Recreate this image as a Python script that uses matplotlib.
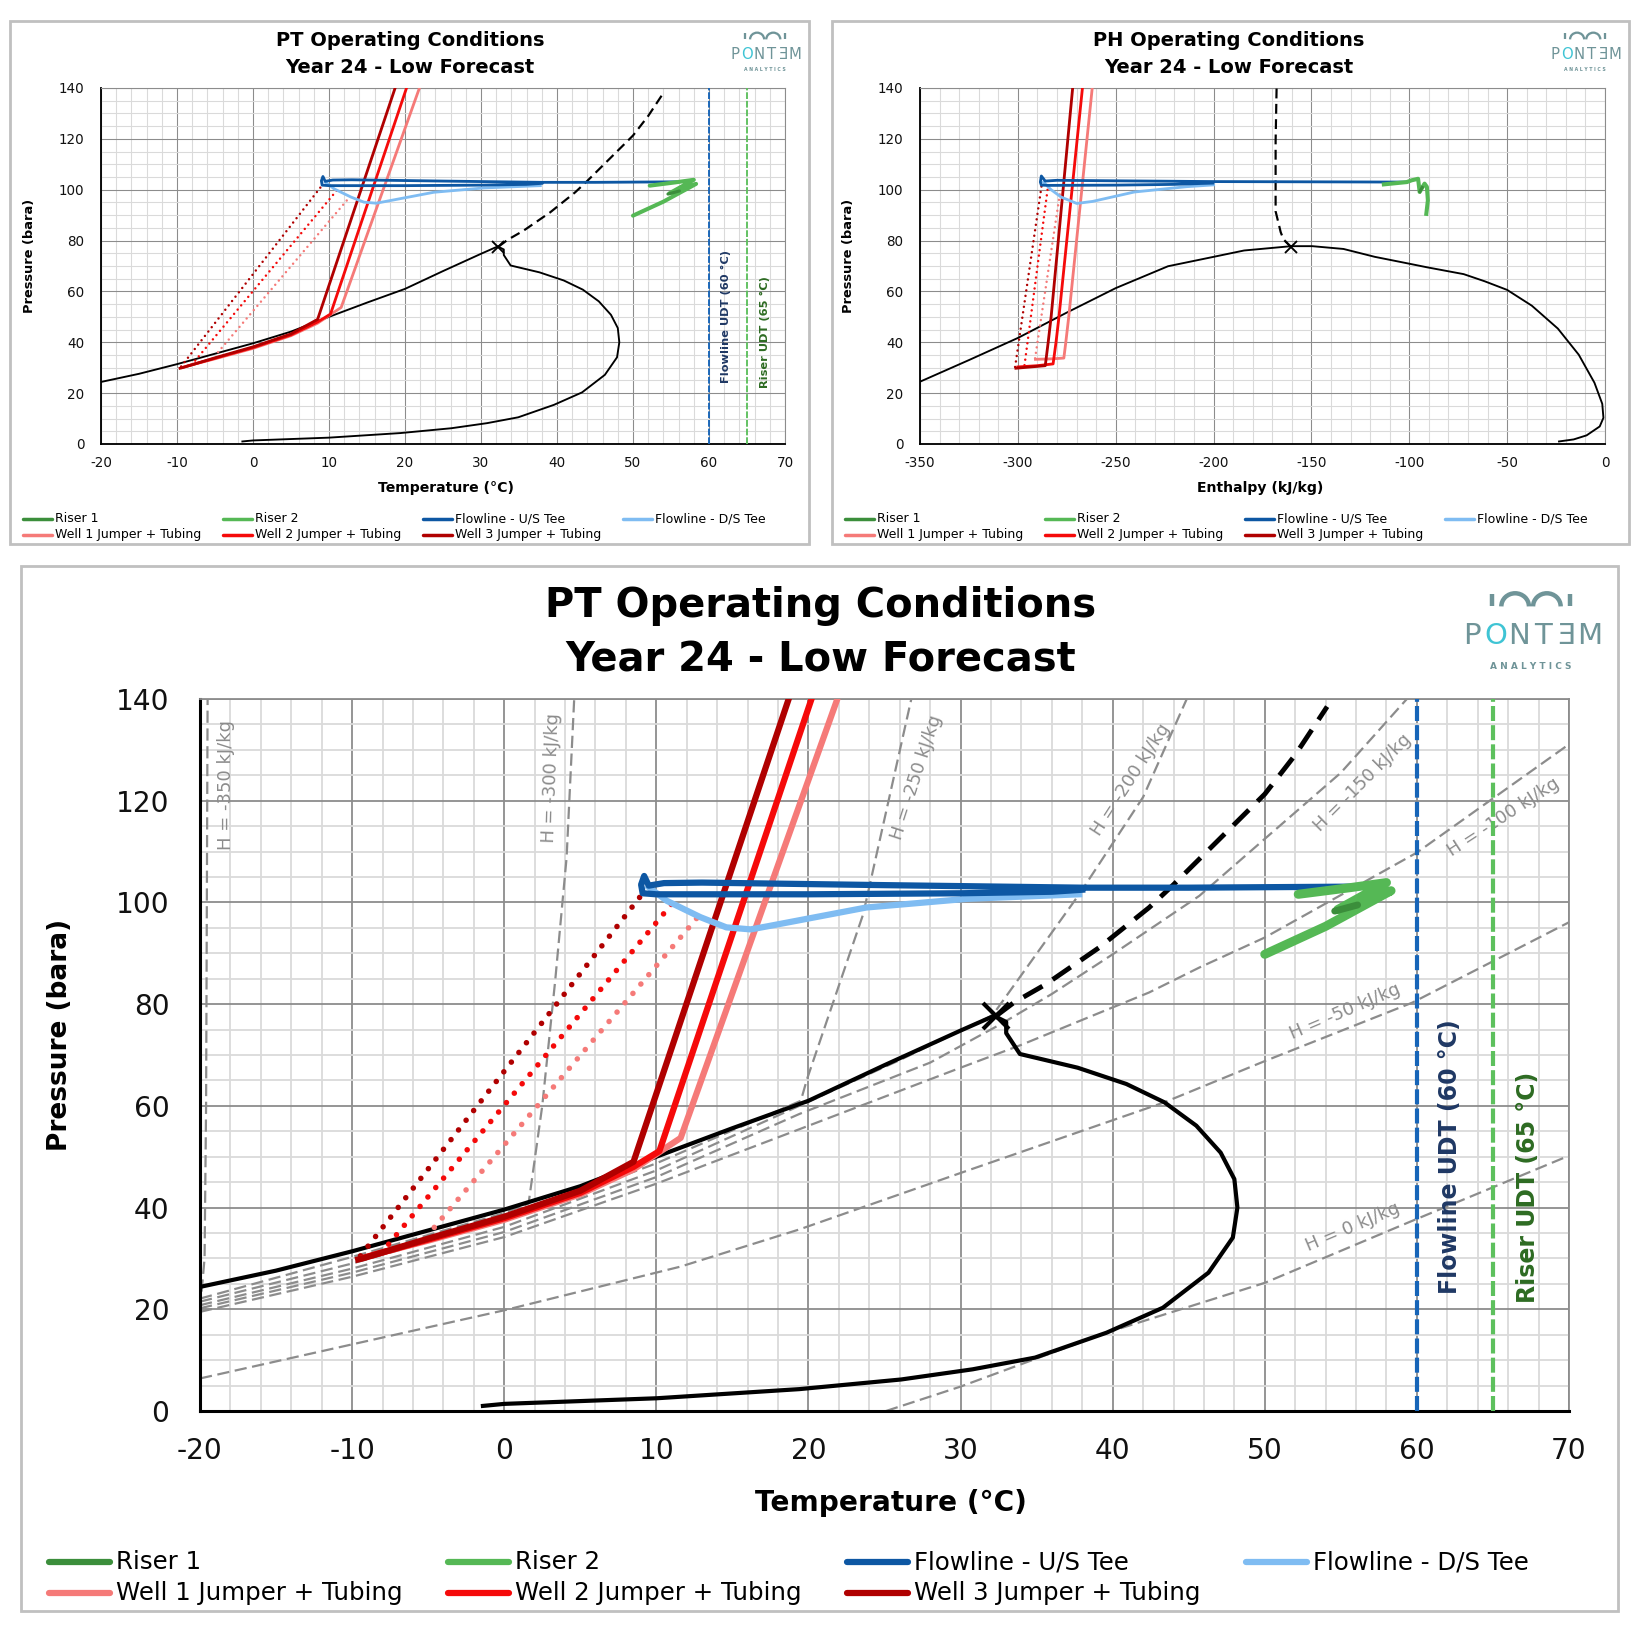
import matplotlib
matplotlib.use("Agg")
import matplotlib.pyplot as plt
import matplotlib.font_manager as fm
from matplotlib.lines import Line2D
from matplotlib.patches import Rectangle, Arc
import numpy as np

# ---------------------------------------------------------------
# data
# ---------------------------------------------------------------
# phase envelope in P-T (deg C, bara)
ENV_T = [-20, -15, -10, -5, 0, 5, 10, 15, 20, 25, 30, 32.2, 33.0, 33.0, 33.9, 37.7,
         40.9, 43.4, 45.5, 47.1, 48.0, 48.2, 47.9, 46.3, 43.3, 39.6, 34.9, 30.8,
         26.1, 19.4, 10, 0, -1.4]
ENV_P = [24.4, 27.6, 31.4, 35.5, 39.6, 44.2, 50.0, 55.6, 61.0, 68.0, 74.8, 77.7, 76.5,
         74.3, 70.2, 67.5, 64.3, 60.7, 56.1, 50.8, 45.6, 40.0, 34.1, 27.2, 20.3, 15.4,
         10.5, 8.2, 6.2, 4.3, 2.5, 1.4, 1.0]
CRIT_T, CRIT_P = 32.3, 77.6
EXT_T = [32.3, 33.5, 35.6, 39.1, 42.4, 44.0, 46.8, 50.0, 52.0, 54.1]
EXT_P = [77.6, 80.3, 83.9, 91.1, 99.0, 103.5, 111.8, 121.3, 129.0, 138.5]

# flowlines and risers, P-T
FUS_T = [55.6, 45, 38, 25, 13, 10.5, 9.5, 9.2, 9.0, 9.1, 10, 20, 30, 36, 38]
FUS_P = [103.1, 102.9, 102.9, 103.4, 103.9, 103.8, 103.3, 105.2, 103.5, 101.8, 101.6,
         101.6, 101.8, 102.1, 102.5]
FDS_T = [9.5, 10.7, 12.9, 14.6, 16.2, 17.3, 23.8, 30.4, 37.8]
FDS_P = [103.0, 100.3, 97.1, 95.1, 94.7, 95.3, 99.0, 100.7, 101.6]
R1_T = [54.6, 56.1]
R1_P = [98.3, 99.5]
R2_T = [52.2, 55.6, 58.0, 54.8, 58.3, 54.0, 50.0]
R2_P = [101.6, 102.9, 103.9, 98.6, 102.3, 95.3, 89.8]

# wells, P-T (solid = jumper + tubing, dotted = choke)
W1_T = [-8.5, -5.0, 0.0, 5.0, 8.5, 11.6, 21.9]
W1_P = [30.8, 33.5, 37.6, 42.6, 47.5, 53.7, 140.0]
W2_T = [-9.3, -5.0, 0.0, 5.0, 8.5, 10.2, 20.2]
W2_P = [30.1, 33.7, 37.9, 42.9, 48.0, 51.1, 140.0]
W3_T = [-9.6, -9.2, -5.0, 0.0, 5.0, 8.5, 18.7]
W3_P = [29.8, 30.1, 33.9, 38.2, 43.3, 49.0, 140.0]
W1D_T, W1D_P = [-4.6, 12.8], [36.1, 97.4]
W2D_T, W2D_P = [-7.6, 11.1], [32.8, 100.0]
W3D_T, W3D_P = [-9.45, 9.06], [30.5, 101.6]

# isenthalps on the large P-T chart
H350_T = [-20.0, -19.7, -19.6, -19.55, -19.5]
H350_P = [20.0, 30.0, 60.0, 100.0, 140.0]
H300_T = [-20, -10, 0, 1.6, 2.5, 3.35, 4.1, 4.6]
H300_P = [22.1, 30.3, 38.9, 40.8, 60.0, 84.6, 108.8, 140.0]
H250_T = [-20, -10, 0, 10, 19.5, 19.9, 23.6, 26.8]
H250_P = [21.5, 29.0, 37.5, 48.7, 61.0, 65.2, 97.7, 140.5]
H200_T = [-20, -10, 0, 10, 19.4, 26, 32.1, 37.8, 42.0, 44.9]
H200_P = [20.8, 28.0, 36.2, 47.3, 60.0, 69.0, 77.8, 101.6, 120.7, 140.2]
H150_T = [-20, -10, 0, 10, 19.4, 28, 32.6, 36, 40, 45.7, 50, 55, 59.4]
H150_P = [20.2, 27.2, 35.2, 46.0, 58.4, 68.5, 76.0, 82.0, 89.8, 101.3, 112.5, 125.5, 140.2]
H100_T = [-20, -10, 0, 10, 19.4, 30, 34, 42.4, 45.7, 50, 60, 70]
H100_P = [19.5, 26.4, 34.2, 44.7, 55.4, 67.5, 72.0, 82.3, 87.2, 93.1, 109.8, 131.1]
H50_T = [-20, 0, 11.6, 19.4, 30, 43.4, 50, 59.7, 70]
H50_P = [6.4, 19.8, 28.4, 35.7, 46.8, 60.7, 68.8, 80.3, 96.1]
H0_T = [25.1, 30, 39.6, 50, 59.7, 70]
H0_P = [0.0, 4.8, 15.4, 25.2, 37.4, 50.2]
ISEN_LABELS = ['H = -350 kJ/kg', 'H = -300 kJ/kg', 'H = -250 kJ/kg', 'H = -200 kJ/kg',
               'H = -150 kJ/kg', 'H = -100 kJ/kg', 'H = -50 kJ/kg', 'H = 0 kJ/kg']
ISEN_LABEL_T = [-18.3, 3.1, 27.1, 41.2, 56.4, 65.7, 55.3, 55.8]
ISEN_LABEL_P = [123.0, 124.4, 124.6, 124.2, 123.6, 116.8, 78.6, 36.1]

# P-H chart (kJ/kg, bara)
PH_ENV_H = [-350, -325, -300, -275.2, -250, -223.3, -200, -184.4, -160.3, -149.6, -133.6,
            -117.6, -100, -91, -72.2, -61.5, -50, -37.4, -24.1, -13.4, -5.4, -1.4, -0.8,
            -2.7, -9.4, -16, -23.5]
PH_ENV_P = [24.5, 33.0, 41.7, 51.6, 61.3, 69.9, 73.6, 76.1, 77.8, 77.8, 76.7, 73.6, 70.9,
            69.5, 66.8, 64.0, 60.6, 54.4, 45.4, 35.1, 24.1, 15.8, 10.3, 6.9, 3.4, 1.8, 1.0]
PH_CRIT_H, PH_CRIT_P = -160.3, 77.4
PH_EXT_H = [-160.3, -164.3, -165.7, -168.3, -168.3, -168.3, -167.8]
PH_EXT_P = [77.4, 80.5, 83.3, 91.5, 105.3, 119.0, 140.0]
PH_FUS_H = [-101.3, -150, -200, -250, -280, -286, -288, -288.5, -288, -284, -250, -220,
            -200.5]
PH_FUS_P = [103.0, 103.1, 103.2, 103.5, 103.7, 103.4, 105.4, 103.0, 101.8, 101.7, 101.8,
            102.1, 102.6]
PH_FDS_H = [-287, -283, -277.9, -269.9, -261.8, -240.5, -213.7, -200]
PH_FDS_P = [103.0, 100.0, 97.1, 94.6, 95.4, 99.1, 101.2, 101.9]
PH_R1_H = [-94.6, -93.4]
PH_R1_P = [99.3, 100.9]
PH_R2_H = [-113.0, -101.3, -98.8, -95.5, -94.7, -92.2, -91.0, -90.5, -91.3]
PH_R2_P = [102.1, 103.0, 103.7, 104.3, 99.1, 102.4, 101.1, 95.8, 90.5]
PH_W1_H = [-291, -282, -276.5, -275.5, -274, -262]
PH_W1_P = [33.3, 33.5, 33.8, 40.0, 50.0, 140.0]
PH_W2_H = [-300, -290, -282, -280.5, -279, -267]
PH_W2_P = [30.3, 30.8, 31.5, 40.0, 50.0, 140.0]
PH_W3_H = [-301, -295, -286, -284.5, -283, -272]
PH_W3_P = [29.8, 30.2, 30.8, 40.0, 50.0, 140.0]
PH_W1D_H, PH_W1D_P = [-291.2, -278.4], [33.7, 99.1]
PH_W2D_H, PH_W2D_P = [-296.6, -284.5], [31.0, 101.9]
PH_W3D_H, PH_W3D_P = [-301.4, -287.8], [30.3, 102.0]

LEGEND_LABELS = ['Riser 1', 'Riser 2', 'Flowline - U/S Tee', 'Flowline - D/S Tee',
                 'Well 1 Jumper + Tubing', 'Well 2 Jumper + Tubing', 'Well 3 Jumper + Tubing']

# colours
C_R1, C_R2 = '#3b8e3b', '#55b855'
C_FUS, C_FDS = '#0d57a3', '#7fbcf2'
C_W1, C_W2, C_W3 = '#f57a78', '#f50a0a', '#b00000'
LEGEND_COLORS = [C_R1, C_R2, C_FUS, C_FDS, C_W1, C_W2, C_W3]
C_ISEN = '#8c8c8c'

# ---------------------------------------------------------------
# fonts
# ---------------------------------------------------------------
_names = {f.name for f in fm.fontManager.ttflist}
NARROW = 'Liberation Sans Narrow' if 'Liberation Sans Narrow' in _names else 'DejaVu Sans'
NS = 1.0 if NARROW == 'Liberation Sans Narrow' else 0.72
WIDE = 'DejaVu Sans'
plt.rcParams['font.family'] = [NARROW, 'DejaVu Sans']
plt.rcParams['axes.unicode_minus'] = False

W, H = 1640, 1632
fig = plt.figure(figsize=(W / 100, H / 100), dpi=100)
fig.set_facecolor('white')


def fx(px):
    return px / W


def fy(py):
    return 1 - py / H


def panel_box(x0, y0, x1, y1):
    fig.add_artist(Rectangle((fx(x0), fy(y1)), (x1 - x0) / W, (y1 - y0) / H,
                             transform=fig.transFigure, fill=False, ec='#c0c0c0', lw=2))


def make_axes(x0, y0, x1, y1):
    return fig.add_axes([fx(x0), fy(y1), (x1 - x0) / W, (y1 - y0) / H])


def style(ax, xlim, xstep, xminor, s, tick_fs, padx, pady):
    ax.set_xlim(xlim)
    ax.set_ylim(0, 140)
    ax.set_xticks(np.arange(xlim[0], xlim[1] + 1, xstep))
    ax.set_xticks(np.arange(xlim[0], xlim[1] + 1, xminor), minor=True)
    ax.set_yticks(np.arange(0, 141, 20))
    ax.set_yticks(np.arange(0, 141, 5), minor=True)
    ax.grid(True, which='major', color='#8c8c8c', lw=1.3 * s)
    ax.grid(True, which='minor', color='#dadada', lw=1.3 * s)
    ax.set_axisbelow(True)
    ax.tick_params(which='both', length=0, labelsize=tick_fs, colors='#111111')
    ax.tick_params(axis='x', pad=padx)
    ax.tick_params(axis='y', pad=pady)
    for side in ('top', 'right'):
        ax.spines[side].set_color('#8c8c8c')
        ax.spines[side].set_linewidth(1.3 * s)
    for side in ('left', 'bottom'):
        ax.spines[side].set_color('black')
        ax.spines[side].set_linewidth(2.2 * s)


def draw_logo(x0, y0, sc):
    w, h = 138 * sc, 82 * sc
    lax = fig.add_axes([fx(x0), fy(y0 + h), w / W, h / H])
    lax.set_xlim(0, 1)
    lax.set_ylim(0, 1)
    lax.axis('off')
    teal, cyan = '#6f9498', '#3fc4d4'
    lw = 3.2 * sc
    lax.plot([0.22, 0.22], [0.80, 0.95], color=teal, lw=lw, solid_capstyle='butt')
    lax.plot([0.78, 0.78], [0.80, 0.95], color=teal, lw=lw, solid_capstyle='butt')
    for cx in (0.385, 0.615):
        lax.add_patch(Arc((cx, 0.80), 0.2, 0.32, theta1=0, theta2=180, color=teal, lw=lw))
    for i, ch in enumerate('PONTƎM'):
        lax.text(0.075 + i * 0.17, 0.44, ch, color=cyan if ch == 'O' else teal,
                 fontsize=21 * sc, family=WIDE, ha='center', va='center')
    lax.text(0.5, 0.07, 'A N A L Y T I C S', color=teal, fontsize=6.5 * sc, family=WIDE,
             weight='bold', ha='center', va='center')


def draw_legend(x0, y_rows, dx, hl, gap, fs, lw):
    for i, (lab, col) in enumerate(zip(LEGEND_LABELS, LEGEND_COLORS)):
        r, c = divmod(i, 4)
        x, y = x0 + c * dx, y_rows[r]
        fig.add_artist(Line2D([fx(x), fx(x + hl)], [fy(y), fy(y)], color=col, lw=lw,
                              transform=fig.transFigure, solid_capstyle='round'))
        fig.text(fx(x + hl + gap), fy(y), lab, fontsize=fs, ha='left', va='center')


def draw_pt(ax, s, fs_udt):
    ax.axvline(60, color='#1765b8', lw=3.0 * s, dashes=(3.6, 1.0), zorder=3)
    ax.axvline(65, color='#5dc05d', lw=3.0 * s, dashes=(3.6, 1.0), zorder=3)
    ax.text(62.2, 50, 'Flowline UDT (60 °C)', rotation=90, ha='center', va='center',
            fontsize=fs_udt, weight='bold', color='#1f3864', family=WIDE)
    ax.text(67.3, 44, 'Riser UDT (65 °C)', rotation=90, ha='center', va='center',
            fontsize=fs_udt, weight='bold', color='#2d6b22', family=WIDE)
    ax.plot(ENV_T, ENV_P, color='black', lw=3.0 * s, zorder=4)
    ax.plot(EXT_T, EXT_P, color='black', lw=3.5 * s, dashes=(4.5, 2.5), zorder=4)
    for t, p, c in [(W1D_T, W1D_P, C_W1), (W2D_T, W2D_P, C_W2), (W3D_T, W3D_P, C_W3)]:
        ax.plot(t, p, color=c, lw=4.0 * s, ls=(0, (0.01, 2.2)), dash_capstyle='round',
                zorder=5)
    for t, p, c in [(W1_T, W1_P, C_W1), (W2_T, W2_P, C_W2), (W3_T, W3_P, C_W3)]:
        ax.plot(t, p, color=c, lw=4.5 * s, solid_joinstyle='round', zorder=5)
    ax.plot(FDS_T, FDS_P, color=C_FDS, lw=4.5 * s, solid_joinstyle='round', zorder=6)
    ax.plot(FUS_T, FUS_P, color=C_FUS, lw=4.5 * s, solid_joinstyle='round', zorder=7)
    ax.plot(R2_T, R2_P, color=C_R2, lw=6.5 * s, solid_joinstyle='round',
            solid_capstyle='round', zorder=7)
    ax.plot(R1_T, R1_P, color=C_R1, lw=5.0 * s, solid_capstyle='round', zorder=7)
    ax.plot([CRIT_T], [CRIT_P], ls='none', marker='x', color='black', ms=19 * s,
            mew=3 * s, zorder=8)


# ---------------------------------------------------------------
# panel boxes, titles, logos
# ---------------------------------------------------------------
panel_box(10, 21, 809, 544)
panel_box(832, 21, 1629, 544)
panel_box(21, 566, 1618, 1611)

fig.text(fx(410), fy(46), 'PT Operating Conditions', ha='center', va='baseline',
         fontsize=19.5 * NS, weight='bold')
fig.text(fx(410), fy(73), 'Year 24 - Low Forecast', ha='center', va='baseline',
         fontsize=19.5 * NS, weight='bold')
fig.text(fx(1229), fy(46), 'PH Operating Conditions', ha='center', va='baseline',
         fontsize=19.5 * NS, weight='bold')
fig.text(fx(1229), fy(73), 'Year 24 - Low Forecast', ha='center', va='baseline',
         fontsize=19.5 * NS, weight='bold')
fig.text(fx(821), fy(617), 'PT Operating Conditions', ha='center', va='baseline',
         fontsize=40 * NS, weight='bold')
fig.text(fx(821), fy(672), 'Year 24 - Low Forecast', ha='center', va='baseline',
         fontsize=40 * NS, weight='bold')

draw_logo(730, 31, 0.51)
draw_logo(1550, 31, 0.51)
draw_logo(1462, 590, 1.0)

# ---------------------------------------------------------------
# top-left: small PT chart
# ---------------------------------------------------------------
ax1 = make_axes(101, 88, 785, 444)
style(ax1, (-20, 70), 10, 2, 0.6, 13.5 * NS, 9, 12)
draw_pt(ax1, 0.45, 8.2)
ax1.set_xlabel('Temperature (°C)', fontsize=14 * NS, weight='bold', va='center')
ax1.xaxis.set_label_coords(0.504, -0.124)
ax1.set_ylabel('Pressure (bara)', fontsize=9.4, weight='bold', family=WIDE, va='center')
ax1.yaxis.set_label_coords(-0.105, 0.528)

# ---------------------------------------------------------------
# top-right: small PH chart
# ---------------------------------------------------------------
ax2 = make_axes(920, 88, 1605, 444)
style(ax2, (-350, 0), 50, 10, 0.6, 13.5 * NS, 9, 12)
s = 0.45
ax2.plot(PH_ENV_H, PH_ENV_P, color='black', lw=3.0 * s, zorder=4)
ax2.plot(PH_EXT_H, PH_EXT_P, color='black', lw=3.5 * s, dashes=(4.5, 2.5), zorder=4)
for h_, p_, c in [(PH_W1D_H, PH_W1D_P, C_W1), (PH_W2D_H, PH_W2D_P, C_W2),
                  (PH_W3D_H, PH_W3D_P, C_W3)]:
    ax2.plot(h_, p_, color=c, lw=4.0 * s, ls=(0, (0.01, 2.2)), dash_capstyle='round', zorder=5)
for h_, p_, c in [(PH_W1_H, PH_W1_P, C_W1), (PH_W2_H, PH_W2_P, C_W2),
                  (PH_W3_H, PH_W3_P, C_W3)]:
    ax2.plot(h_, p_, color=c, lw=4.5 * s, solid_joinstyle='round', zorder=5)
ax2.plot(PH_FDS_H, PH_FDS_P, color=C_FDS, lw=4.5 * s, zorder=6)
ax2.plot(PH_FUS_H, PH_FUS_P, color=C_FUS, lw=4.5 * s, zorder=7)
ax2.plot(PH_R2_H, PH_R2_P, color=C_R2, lw=6.5 * s, solid_joinstyle='round', zorder=7)
ax2.plot(PH_R1_H, PH_R1_P, color=C_R1, lw=5.0 * s, zorder=7)
ax2.plot([PH_CRIT_H], [PH_CRIT_P], ls='none', marker='x', color='black', ms=19 * s,
         mew=3 * s, zorder=8)
ax2.set_xlabel('Enthalpy (kJ/kg)', fontsize=14 * NS, weight='bold', va='center')
ax2.xaxis.set_label_coords(0.496, -0.124)
ax2.set_ylabel('Pressure (bara)', fontsize=9.4, weight='bold', family=WIDE, va='center')
ax2.yaxis.set_label_coords(-0.105, 0.528)

# ---------------------------------------------------------------
# bottom: large PT chart with isenthalps
# ---------------------------------------------------------------
ax3 = make_axes(200, 699, 1569, 1411)
style(ax3, (-20, 70), 10, 2, 1.0, 28 * NS, 19, 22)
isen = [(H350_T, H350_P), (H300_T, H300_P), (H250_T, H250_P), (H200_T, H200_P),
        (H150_T, H150_P), (H100_T, H100_P), (H50_T, H50_P), (H0_T, H0_P)]
isen_rot = [90, 88, 72, 57, 45, 33, 23, 23]
for (t, p), lab, lt, lp, rot in zip(isen, ISEN_LABELS, ISEN_LABEL_T, ISEN_LABEL_P, isen_rot):
    ax3.plot(t, p, color=C_ISEN, lw=1.6, dashes=(5.5, 2.5), zorder=2)
    ax3.text(lt, lp, lab, rotation=rot, rotation_mode='anchor', ha='center', va='center',
             fontsize=13, color=C_ISEN, family=WIDE, zorder=2)
draw_pt(ax3, 1.0, 17)
ax3.set_xlabel('Temperature (°C)', fontsize=28 * NS, weight='bold', va='center')
ax3.xaxis.set_label_coords(0.505, -0.129)
ax3.set_ylabel('Pressure (bara)', fontsize=19, weight='bold', family=WIDE, va='center')
ax3.yaxis.set_label_coords(-0.1023, 0.528)

# ---------------------------------------------------------------
# legends
# ---------------------------------------------------------------
draw_legend(23, (519, 534.5), 200, 29, 3, 12.5 * NS, 2.5)
draw_legend(845, (519, 534.5), 200, 29, 3, 12.5 * NS, 2.5)
draw_legend(49, (1562, 1593), 399, 61, 6, 24.5 * NS, 4.5)

fig.savefig('out.png', dpi=100, facecolor='white')
